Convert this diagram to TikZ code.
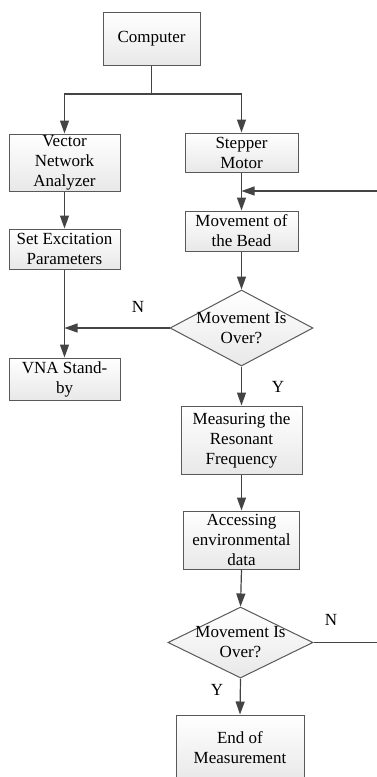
\documentclass[tikz,border=0pt]{standalone}
\usepackage{fontspec}
\setmainfont{Liberation Serif}
\usetikzlibrary{shapes.geometric,arrows.meta}
\definecolor{linec}{HTML}{444444}
\definecolor{boxc}{HTML}{595959}
\tikzset{
  txt/.style={font=\fontsize{17}{20}\selectfont, text=black},
  box/.style={txt, draw=boxc, line width=1pt, top color=white, bottom color=black!9,
              align=center, inner sep=0pt, rectangle},
  dia/.style={draw=boxc, line width=1pt, top color=white, bottom color=black!9,
              diamond, inner sep=0pt},
  dlabel/.style={txt, align=center, inner sep=0pt},
  conn/.style={draw=linec, line width=1.2pt},
  arr/.style={conn, -{Triangle[length=13pt,width=9pt]}},
  yn/.style={txt, inner sep=0pt}
}
\begin{document}
\begin{tikzpicture}[x=1pt,y=-1pt]
\useasboundingbox (0,0) rectangle (377,777);
\clip (0,0) rectangle (377,777);
\fill[white] (0,0) rectangle (377,777);

\node[box, minimum width=97pt, minimum height=53pt] (comp) at (151.5,38.5) {Computer};
\node[box, minimum width=111pt, minimum height=57pt] (vna) at (64.5,162.5) {Vector\\Network\\Analyzer};
\node[box, minimum width=113pt, minimum height=39pt] (step) at (241.5,152.5) {Stepper\\Motor};
\node[box, minimum width=111pt, minimum height=40pt] (setx) at (64.5,249) {Set Excitation\\Parameters};
\node[box, minimum width=111pt, minimum height=42pt] (stby) at (64.5,379) {VNA Stand-\\by};
\node[box, minimum width=113pt, minimum height=40pt] (move) at (241.5,231) {Movement of\\the Bead};
\node[dia, minimum width=143pt, minimum height=76pt,
      label={[dlabel]center:{Movement Is\\Over?}}] (d1) at (241.5,328) {};
\node[box, minimum width=121pt, minimum height=68pt] (meas) at (241.5,440) {Measuring the\\Resonant\\Frequency};
\node[box, minimum width=116pt, minimum height=58pt] (acc) at (241.5,540) {Accessing\\environmental\\data};
\node[dia, minimum width=145pt, minimum height=71pt,
      label={[dlabel]center:{Movement Is\\Over?}}] (d2) at (240.5,642.5) {};
\node[box, minimum width=128pt, minimum height=66pt] (end) at (240,748) {End of\\Measurement};

\coordinate (split) at (151.5,94);
\coordinate (r2) at (380,642.5);
\coordinate (r1) at (380,191);

\draw[conn] (comp.south) -- (split);
\draw[arr] (split) -| (vna.north);
\draw[arr] (split) -| (step.north);
\draw[arr] (vna.south) -- (setx.north);
\draw[arr] (setx.south) -- (stby.north);
\draw[arr] (step.south) -- (move.north);
\draw[arr] (r1) -- (step.south |- r1);
\draw[arr] (move.south) -- (d1.north);
\draw[arr] (d1.west) -- (d1.west -| setx.south);
\draw[arr] (d1.south) -- (meas.north);
\draw[arr] (meas.south) -- (acc.north);
\draw[arr] (acc.south) -- (d2.north);
\draw[arr] (d2.south) -- (end.north);
\draw[conn] (d2.east) -- (r2) -- (r1);

\node[yn] (n1) at (138,307) {N};
\node[yn] (y1) at (278,387) {Y};
\node[yn] (n2) at (331,620) {N};
\node[yn] (y2) at (217,690) {Y};
\end{tikzpicture}
\end{document}
